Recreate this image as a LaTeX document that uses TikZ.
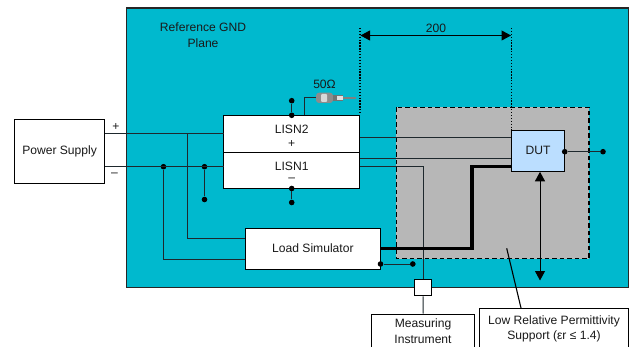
\documentclass[tikz,border=0pt]{standalone}
\usepackage{fontspec}
\setmainfont{Liberation Sans}
\usepackage{xcolor}
\usetikzlibrary{arrows.meta}
\definecolor{plane}{RGB}{0, 185, 206}
\definecolor{support}{RGB}{183, 183, 183}
\definecolor{dutblue}{RGB}{187, 222, 255}
\definecolor{wire}{RGB}{30, 40, 45}
\tikzset{
 box/.style={draw=black,fill=white,line width=1pt,inner sep=0pt},
 dot/.style={circle,fill=black,inner sep=0pt,minimum size=5.6pt},
 txt/.style={inner sep=0pt,font=\fontsize{12.1}{14}\selectfont,text=black!90},
 line/.style={draw=wire,line width=1pt},
 tip/.style={line width=1pt}
}
\begin{document}
\begin{tikzpicture}[x=1pt,y=-1pt]
\clip (0,0) rectangle (631,347);
\fill[white] (0,0) rectangle (631,347);
\draw[fill=plane,line width=1.2pt,draw=black!85] (126.5,8) rectangle (628.7,287.5);
\draw[fill=support,line width=1.3pt,dash pattern=on 4.5pt off 3pt] (396.3,107.3) rectangle (589,258.7);

\node[box,minimum width=89.8pt,minimum height=64.3pt] (supply) at (59.6,151.8) {};
\node[box,minimum width=136.5pt,minimum height=37.3pt] (lisntwo) at (291.7,133.7) {};
\node[box,minimum width=136.5pt,minimum height=36.2pt] (lisnone) at (291.7,170.4) {};
\node[box,minimum width=135.7pt,minimum height=40.7pt] (load) at (312.9,248.7) {};
\node[box,fill=dutblue,minimum width=53.4pt,minimum height=41pt] (dut) at (538,150.8) {};
\node[box,minimum width=17pt,minimum height=16.7pt] (probe) at (423.2,287.6) {};
\node[box,minimum width=102.6pt,minimum height=45pt] (meter) at (423,336.5) {};
\node[box,minimum width=148.6pt,minimum height=52pt] (low) at (554,334) {};

\coordinate (plusa) at (104.5,133.7);
\coordinate (plusb) at (187,133.7);
\coordinate (minusa) at (104.5,166.7);
\coordinate (minusb) at (223.5,166.7);
\coordinate (loada) at (245,238);
\coordinate (loadb) at (245,259.7);
\coordinate (twoout) at (360,138);
\coordinate (oneout) at (360,158.7);
\coordinate (probeout) at (360,166.7);
\coordinate (thickin) at (511.3,166.7);
\coordinate (thickbend) at (472,248.7);
\coordinate (lisnend) at (223.5,133.7);
\coordinate (rfbase) at (304.3,115);
\coordinate (rfend) at (316,97.7);
\coordinate (gapleft) at (360,28);
\coordinate (gapright) at (511.3,28);
\coordinate (dimleft) at (360.5,35.5);
\coordinate (dimright) at (511,35.5);
\coordinate (travel) at (540,280.5);
\coordinate (lead) at (506.7,248.3);
\coordinate (leadend) at (521,308);

\node[dot] (jone) at (163.5,166.7) {};
\node[dot] (jtwo) at (204.5,166.7) {};
\node[dot] (jthree) at (204.5,199.5) {};
\node[dot] (topa) at (291.7,100.7) {};
\node[dot] (topb) at (291.7,115.3) {};
\node[dot] (bota) at (291.7,188.5) {};
\node[dot] (botb) at (291.7,202.5) {};
\node[dot] (dutin) at (564.7,151.7) {};
\node[dot] (dutout) at (603,151.7) {};
\node[dot] (loadin) at (380.5,264) {};
\node[dot] (loadout) at (412.8,264) {};

\draw[line] (plusa)--(lisnend);
\draw[line] (minusa)--(minusb);
\draw[line] (plusb)|-(loada);
\draw[line] (jone)|-(loadb);
\draw[line] (jtwo)--(jthree);
\draw[line,line width=1.3pt] (topa)--(topb);
\draw[line,line width=1.3pt] (bota)--(botb);
\draw[line] (rfbase)|-(rfend);
\draw[line] (twoout)--(twoout-|dut.west);
\draw[line] (oneout)--(oneout-|dut.west);
\draw[line] (probeout)-|(probe.north);
\draw[line] (probe.south)--(meter.north);
\draw[line] (dutin)--(dutout);
\draw[line] (loadin)--(loadout);
\draw[line width=3.2pt,line join=miter] (thickin)-|(thickbend)--(thickbend-|load.east);
\draw[line width=1.2pt,dash pattern=on 1.3pt off 1.6pt] (gapleft)--(gapleft|-lisntwo.north);
\draw[line width=1.2pt,dash pattern=on 1.3pt off 1.6pt] (gapright)--(gapright|-dut.north);
\draw[tip,{Triangle[length=9.5pt,width=10pt]}-{Triangle[length=9.5pt,width=10pt]}] (dimleft)--(dimright);
\draw[tip,{Triangle[length=9.5pt,width=10pt]}-{Triangle[length=9.5pt,width=10pt]}] (travel)--(travel|-dut.south);
\draw[line width=1.1pt] (lead)--(leadend);

\fill[black!45,rounded corners=3pt] (316,92.7) rectangle (333,103);
\fill[black!15,rounded corners=1pt] (321,94) rectangle (327,102);
\fill[black!55] (333,95) rectangle (343,101);
\fill[black!12] (337,96) rectangle (343,100);
\draw[black!50,line width=1.2pt] (343,98)--(355.7,98);

\node[txt] (supplytxt) at (59.6,151.8) {Power Supply};
\node[txt] (plane) at (203,27.5) {Reference GND};
\node[txt] (planeb) at (203,43) {Plane};
\node[txt] (plus) at (116,127) {+};
\node[txt] (minus) at (114.5,175) {--};
\node[txt] (ohm) at (324.5,84) {50Ω};
\node[txt] (dist) at (436,28) {200};
\node[txt] (two) at (291.7,129.5) {LISN2};
\node[txt] (twoplus) at (291.7,144.5) {+};
\node[txt] (one) at (291.7,166) {LISN1};
\node[txt] (oneminus) at (291.7,180) {--};
\node[txt] (duttxt) at (538,150.8) {DUT};
\node[txt] (loadtxt) at (312.9,248) {Load Simulator};
\node[txt] (metera) at (423,324) {Measuring};
\node[txt] (meterb) at (423,339) {Instrument};
\node[txt] (lowa) at (554,321) {Low Relative Permittivity};
\node[txt] (lowb) at (554,336) {Support (εr ≤ 1.4)};
\end{tikzpicture}
\end{document}
